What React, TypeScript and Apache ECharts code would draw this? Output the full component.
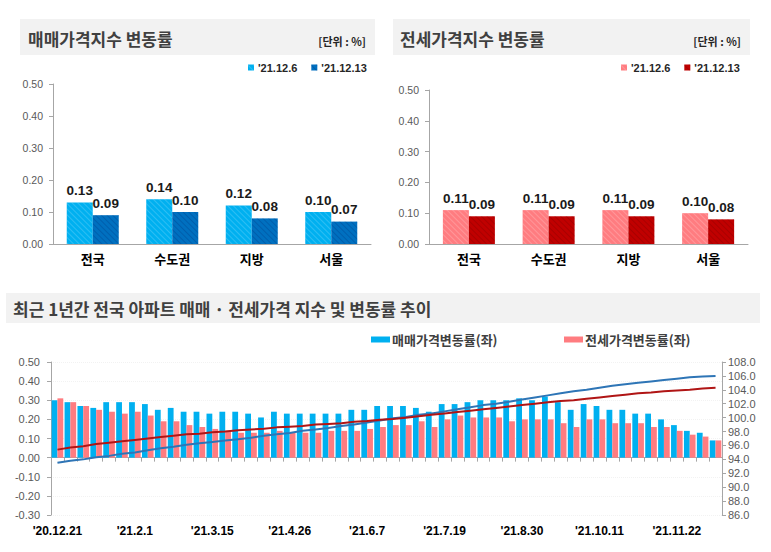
import React, { useEffect, useRef } from "react";
import * as echarts from "echarts";

// ---------- data ----------
const regions = ["전국", "수도권", "지방", "서울"];
const saleDec6 = [0.13, 0.14, 0.12, 0.1];
const saleDec13 = [0.09, 0.1, 0.08, 0.07];
const jeonseDec6 = [0.11, 0.11, 0.11, 0.1];
const jeonseDec13 = [0.09, 0.09, 0.09, 0.08];
const legendDates = ["'21.12.6", "'21.12.13"];

const weekLabels = [
  "'20.12.21", "'20.12.28", "'21.1.4", "'21.1.11", "'21.1.18", "'21.1.25",
  "'21.2.1", "'21.2.8", "'21.2.15", "'21.2.22", "'21.3.1", "'21.3.8",
  "'21.3.15", "'21.3.22", "'21.3.29", "'21.4.5", "'21.4.12", "'21.4.19",
  "'21.4.26", "'21.5.3", "'21.5.10", "'21.5.17", "'21.5.24", "'21.5.31",
  "'21.6.7", "'21.6.14", "'21.6.21", "'21.6.28", "'21.7.5", "'21.7.12",
  "'21.7.19", "'21.7.26", "'21.8.2", "'21.8.9", "'21.8.16", "'21.8.23",
  "'21.8.30", "'21.9.6", "'21.9.13", "'21.9.20", "'21.9.27", "'21.10.4",
  "'21.10.11", "'21.10.18", "'21.10.25", "'21.11.1", "'21.11.8", "'21.11.15",
  "'21.11.22", "'21.11.29", "'21.12.6", "'21.12.13",
];
const saleChange = [
  0.3, 0.29, 0.27, 0.26, 0.29, 0.29, 0.29, 0.28, 0.25, 0.26, 0.24, 0.24,
  0.23, 0.24, 0.24, 0.23, 0.21, 0.24, 0.23, 0.23, 0.23, 0.23, 0.23, 0.25,
  0.25, 0.27, 0.27, 0.27, 0.26, 0.24, 0.28, 0.28, 0.29, 0.3, 0.3, 0.3,
  0.31, 0.3, 0.32, 0.29, 0.25, 0.28, 0.27, 0.25, 0.25, 0.23, 0.23, 0.2,
  0.17, 0.14, 0.13, 0.09,
];
const jeonseChange = [
  0.31, 0.29, 0.27, 0.25, 0.24, 0.23, 0.24, 0.22, 0.19, 0.19, 0.17, 0.16,
  0.15, 0.14, 0.13, 0.13, 0.13, 0.14, 0.13, 0.13, 0.13, 0.14, 0.14, 0.14,
  0.15, 0.16, 0.17, 0.17, 0.19, 0.16, 0.2, 0.22, 0.21, 0.21, 0.21, 0.19,
  0.2, 0.2, 0.2, 0.18, 0.16, 0.2, 0.2, 0.18, 0.18, 0.18, 0.16, 0.16,
  0.14, 0.12, 0.11, 0.09,
];
const saleIndex = [
  93.5, 93.8, 94.0, 94.3, 94.5, 94.8, 95.0, 95.3, 95.6, 95.8, 96.1, 96.3,
  96.5, 96.7, 96.9, 97.1, 97.4, 97.6, 97.8, 98.1, 98.3, 98.5, 98.8, 99.0,
  99.3, 99.6, 99.9, 100.1, 100.4, 100.6, 100.9, 101.2, 101.5, 101.8, 102.0, 102.3,
  102.6, 102.9, 103.2, 103.5, 103.8, 104.0, 104.3, 104.6, 104.8, 105.0, 105.2, 105.4,
  105.6, 105.8, 105.9, 106.0,
];
const jeonseIndex = [
  95.4, 95.7, 95.9, 96.2, 96.4, 96.6, 96.8, 97.0, 97.2, 97.4, 97.6, 97.7,
  97.9, 98.0, 98.2, 98.3, 98.4, 98.6, 98.7, 98.8, 99.0, 99.1, 99.2, 99.4,
  99.5, 99.7, 99.8, 100.0, 100.2, 100.4, 100.6, 100.8, 101.0, 101.2, 101.4, 101.6,
  101.8, 102.0, 102.2, 102.4, 102.5, 102.7, 102.9, 103.1, 103.3, 103.5, 103.6, 103.8,
  103.9, 104.0, 104.2, 104.3,
];

// ---------- styling ----------
const KR = "'Noto Sans CJK KR', 'Malgun Gothic', sans-serif";
const NUM = "'Liberation Sans', Arial, sans-serif";
const AXIS_GRAY = "#a6a6a6";
const LABEL_GRAY = "#595959";

const hatch = (c: string) => ({
  symbol: "rect",
  symbolSize: 1,
  dashArrayX: [1, 0],
  dashArrayY: [1, 3],
  rotation: Math.PI / 4,
  color: c,
});

function topYAxis(grid: number) {
  return {
    type: "value",
    gridIndex: grid,
    min: 0,
    max: 0.5,
    interval: 0.1,
    axisLine: { show: true, lineStyle: { color: AXIS_GRAY } },
    axisTick: { show: true, length: 4, lineStyle: { color: AXIS_GRAY } },
    splitLine: { show: false },
    axisLabel: {
      margin: 10,
      color: LABEL_GRAY,
      fontSize: 10.5,
      fontFamily: NUM,
      formatter: (v: number) => v.toFixed(2),
    },
  };
}

function topXAxis(grid: number) {
  return {
    type: "category",
    gridIndex: grid,
    data: regions,
    axisLine: { show: true, lineStyle: { color: AXIS_GRAY } },
    axisTick: { show: false },
    axisLabel: {
      margin: 8,
      color: "#000",
      fontSize: 13,
      fontWeight: "bold",
      fontFamily: KR,
    },
  };
}

function topBar(name: string, grid: number, data: number[], color: string, decalColor: string) {
  return {
    type: "bar",
    name,
    xAxisIndex: grid,
    yAxisIndex: grid,
    data,
    barWidth: 26,
    barGap: "0%",
    itemStyle: { color, decal: hatch(decalColor) },
    label: {
      show: true,
      position: "top",
      distance: 5,
      formatter: (p: any) => Number(p.value).toFixed(2),
      fontFamily: NUM,
      fontWeight: "bold",
      fontSize: 13.5,
      color: "#1a1a1a",
    },
  };
}

function topLegend(left: number, names: string[]) {
  return {
    left,
    top: 57,
    orient: "horizontal",
    itemWidth: 6,
    itemHeight: 6,
    itemGap: 14,
    icon: "rect",
    data: names,
    formatter: (n: string) => n.replace(/^\S+ /, ""),
    textStyle: { fontFamily: NUM, fontSize: 11, fontWeight: "bold", color: "#262626", padding: [0, 0, 0, -1] },
  };
}

export default function App() {
  const ref = useRef<HTMLDivElement>(null);

  useEffect(() => {
    if (!ref.current) return;
    const chart = echarts.init(ref.current, undefined, { renderer: "svg" });

    const saleNames = legendDates.map((d) => "매매 " + d);
    const jeonseNames = legendDates.map((d) => "전세 " + d);

    const option: any = {
      animation: false,
      backgroundColor: "#ffffff",
      textStyle: { fontFamily: KR },
      graphic: [
        { type: "rect", shape: { x: 20, y: 19, width: 355, height: 36 }, style: { fill: "#f2f2f2" }, silent: true },
        { type: "rect", shape: { x: 393, y: 19, width: 357, height: 36 }, style: { fill: "#f2f2f2" }, silent: true },
        { type: "rect", shape: { x: 6, y: 293, width: 754, height: 30 }, style: { fill: "#f2f2f2" }, silent: true },
        {
          type: "text", x: 28, y: 38,
          style: { text: "매매가격지수 변동률", fontSize: 17, fontWeight: "bold", fontFamily: KR, fill: "#404040", verticalAlign: "middle" },
        },
        {
          type: "text", x: 366, y: 41,
          style: { text: "[단위 : %]", fontSize: 11, fontWeight: "bold", fontFamily: KR, fill: "#262626", align: "right", verticalAlign: "middle" },
        },
        {
          type: "text", x: 400, y: 38,
          style: { text: "전세가격지수 변동률", fontSize: 17, fontWeight: "bold", fontFamily: KR, fill: "#404040", verticalAlign: "middle" },
        },
        {
          type: "text", x: 741, y: 41,
          style: { text: "[단위 : %]", fontSize: 11, fontWeight: "bold", fontFamily: KR, fill: "#262626", align: "right", verticalAlign: "middle" },
        },
        {
          type: "text", x: 13, y: 308,
          style: { text: "최근 1년간 전국 아파트 매매 · 전세가격 지수 및 변동률 추이", fontSize: 17, fontWeight: "bold", fontFamily: KR, fill: "#404040", verticalAlign: "middle" },
        },
      ],
      legend: [
        topLegend(243, saleNames),
        topLegend(616, jeonseNames),
        {
          left: 366, top: 328, itemWidth: 19, itemHeight: 6, icon: "rect",
          data: ["매매가격변동률(좌)"],
          textStyle: { fontFamily: KR, fontSize: 13, fontWeight: "bold", color: "#404040", padding: [0, 0, 0, -3] },
        },
        {
          left: 559, top: 328, itemWidth: 19, itemHeight: 6, icon: "rect",
          data: ["전세가격변동률(좌)"],
          textStyle: { fontFamily: KR, fontSize: 13, fontWeight: "bold", color: "#404040", padding: [0, 0, 0, -3] },
        },
      ],
      grid: [
        { left: 53, top: 84, width: 318, height: 160 },
        { left: 429, top: 90, width: 319, height: 154 },
        { left: 51, top: 362, width: 671, height: 153 },
      ],
      xAxis: [
        topXAxis(0),
        topXAxis(1),
        {
          type: "category",
          gridIndex: 2,
          data: weekLabels,
          axisLine: { show: true, onZero: true, lineStyle: { color: AXIS_GRAY } },
          axisTick: { show: true, interval: 0, length: 4, lineStyle: { color: AXIS_GRAY } },
          axisLabel: { show: false },
        },
        {
          type: "category",
          gridIndex: 2,
          position: "bottom",
          data: weekLabels,
          axisLine: { show: false, onZero: false },
          axisTick: { show: false },
          axisLabel: {
            interval: 5,
            margin: 10,
            color: "#000",
            fontSize: 12,
            fontWeight: "bold",
            fontFamily: NUM,
          },
        },
      ],
      yAxis: [
        topYAxis(0),
        topYAxis(1),
        {
          type: "value",
          gridIndex: 2,
          min: -0.3,
          max: 0.5,
          interval: 0.1,
          axisLine: { show: true, lineStyle: { color: AXIS_GRAY } },
          axisTick: { show: true, length: 4, lineStyle: { color: AXIS_GRAY } },
          splitLine: { show: true, lineStyle: { color: "#f2f2f2", type: "dotted" } },
          axisLabel: {
            margin: 11,
            color: LABEL_GRAY,
            fontSize: 11,
            fontFamily: NUM,
            formatter: (v: number) => v.toFixed(2),
          },
        },
        {
          type: "value",
          gridIndex: 2,
          position: "right",
          min: 86,
          max: 108,
          interval: 2,
          axisLine: { show: true, lineStyle: { color: AXIS_GRAY } },
          axisTick: { show: true, length: 4, lineStyle: { color: AXIS_GRAY } },
          splitLine: { show: false },
          axisLabel: {
            margin: 6,
            color: LABEL_GRAY,
            fontSize: 11,
            fontFamily: NUM,
            formatter: (v: number) => v.toFixed(1),
          },
        },
      ],
      series: [
        topBar(saleNames[0], 0, saleDec6, "#00b0f0", "rgba(255,255,255,0.18)"),
        topBar(saleNames[1], 0, saleDec13, "#0070c0", "rgba(0,40,110,0.25)"),
        topBar(jeonseNames[0], 1, jeonseDec6, "#ff7c80", "rgba(255,255,255,0.2)"),
        topBar(jeonseNames[1], 1, jeonseDec13, "#c00000", "rgba(100,0,0,0.25)"),
        {
          type: "bar",
          name: "매매가격변동률(좌)",
          xAxisIndex: 2,
          yAxisIndex: 2,
          data: saleChange,
          barWidth: 5.8,
          barGap: "0%",
          itemStyle: { color: "#00b0f0" },
        },
        {
          type: "bar",
          name: "전세가격변동률(좌)",
          xAxisIndex: 2,
          yAxisIndex: 2,
          data: jeonseChange,
          barWidth: 5.8,
          barGap: "0%",
          itemStyle: { color: "#ff7c80" },
        },
        {
          type: "line",
          name: "매매가격지수(우)",
          xAxisIndex: 2,
          yAxisIndex: 3,
          data: saleIndex,
          symbol: "none",
          smooth: false,
          z: 5,
          lineStyle: { color: "#2e75b6", width: 2 },
          itemStyle: { color: "#2e75b6" },
        },
        {
          type: "line",
          name: "전세가격지수(우)",
          xAxisIndex: 2,
          yAxisIndex: 3,
          data: jeonseIndex,
          symbol: "none",
          smooth: false,
          z: 5,
          lineStyle: { color: "#b01515", width: 2 },
          itemStyle: { color: "#b01515" },
        },
      ],
    };

    chart.setOption(option);
    return () => chart.dispose();
  }, []);

  return (
    <div
      ref={ref}
      style={{ position: "absolute", left: 0, top: 0, width: 771, height: 552 }}
    />
  );
}
